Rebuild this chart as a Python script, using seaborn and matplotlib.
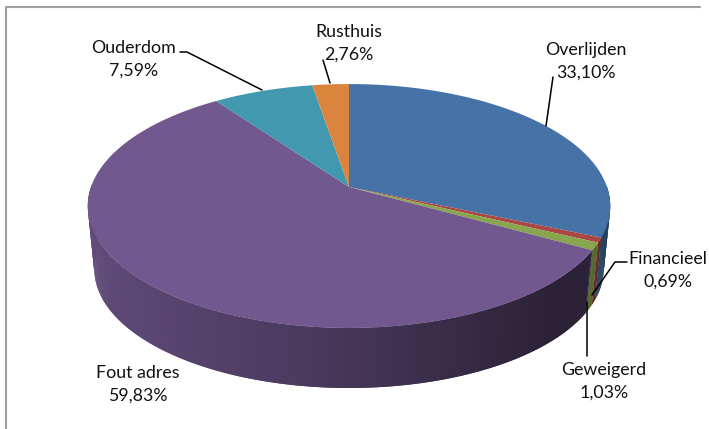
#!/usr/bin/env python

import matplotlib.pyplot as plt
from matplotlib.colors import to_rgb
import numpy as np
import seaborn as sns

LABELS = ["Overlijden", "Financieel", "Geweigerd", "Fout adres", "Ouderdom", "Rusthuis"]
VALUES = [33.10, 0.69, 1.03, 59.83, 7.59, 2.76]
PERCENT_TEXT = ["33,10%", "0,69%", "1,03%", "59,83%", "7,59%", "2,76%"]
COLORS = ["#4572A7", "#AA4643", "#89A54E", "#71588F", "#4198AF", "#DB843D"]

# pie geometry in pixels of the figure
APEX = (349, 187)
RX, RY, TILT = 258, 119, 0.156
DEPTH_SHIFT, DEPTH_SCALE = 63.5, 0.975


def project(theta, scale=1.0, shift=0):
    u, v = np.sin(theta), np.cos(theta)
    w = 1 + TILT * v
    return APEX[0] + scale * RX * u / w, APEX[1] - scale * RY * v / w + shift


def wall_shade(x):
    return np.interp(x, [88, 300, 560, 591, 593, 600, 610], [0.85, 0.66, 0.38, 0.39, 0.65, 0.6, 0.55])


sns.set_theme(style="white")
plt.rcParams["font.family"] = ["Lato", "DejaVu Sans"]

f, ax = plt.subplots(figsize=(7.09, 4.29), dpi=100)
ax.set_position([0, 0, 1, 1])
ax.set_xlim(0, 709)
ax.set_ylim(429, 0)
ax.axis("off")

edges = np.cumsum([0] + VALUES) / sum(VALUES) * 2 * np.pi

# side wall, front half only, strips overlap so no seams show
for i, color in enumerate(COLORS):
    start, stop = edges[i], edges[i + 1]
    steps = max(2, int((stop - start) * 120))
    angles = np.linspace(start, stop, steps + 1)
    step = angles[1] - angles[0]
    for a in angles[:-1]:
        b = a + 2 * step if a + step < stop - step / 2 else stop
        if np.cos(a + step / 2) > 0.02:
            continue
        x1, y1 = project(np.array([a, b]))
        x2, y2 = project(np.array([b, a]), DEPTH_SCALE, DEPTH_SHIFT)
        shade = wall_shade(x1[0])
        rgb = tuple(c * shade for c in to_rgb(color))
        ax.fill(np.r_[x1, x2], np.r_[y1, y2], color=rgb, lw=0, zorder=2)

# top face
for i, color in enumerate(COLORS):
    angles = np.linspace(edges[i], edges[i + 1], 200)
    x, y = project(angles)
    ax.fill(np.r_[APEX[0], x], np.r_[APEX[1], y], color=color, lw=0, zorder=3)

# leader lines
ax.plot([546, 553], [126, 77], color="black", lw=1.1, zorder=4)
ax.plot([262, 187, 180], [90, 52, 52], color="black", lw=1.1, zorder=4)
ax.plot([330, 323], [83, 60], color="black", lw=1.1, zorder=4)
ax.plot([592, 615, 627], [295, 262, 262], color="black", lw=1.1, zorder=4)
ax.plot([587, 587], [302, 356], color="black", lw=1.1, zorder=4)

# data labels
LABEL_X = [586, 668, 604, 138, 134, 349]
LABEL_Y = [61, 270, 381, 384, 59, 43]
for name, pct, x, y in zip(LABELS, PERCENT_TEXT, LABEL_X, LABEL_Y):
    ax.text(x, y, f"{name}\n{pct}", ha="center", va="center", fontsize=12.8,
            color="#111111", linespacing=1.5, zorder=5)

# chart border
ax.plot([6, 6, 700], [429, 7, 7], color="#a0a0a0", lw=1.5, zorder=1)

plt.savefig("out.png", dpi=100)
plt.close()
